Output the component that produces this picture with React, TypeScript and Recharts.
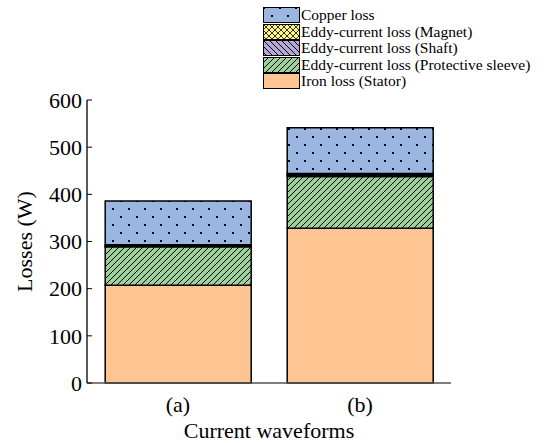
import { Bar, BarChart, XAxis, YAxis } from "recharts";

const categories = ["(a)", "(b)"];
const ironStator = [207, 328];
const eddySleeve = [82, 110];
const eddyShaft = [2, 3];
const eddyMagnet = [2, 3];
const copperLoss = [93, 97];
const yTicks = [0, 100, 200, 300, 400, 500, 600];

const FONT = "'Liberation Serif', 'Times New Roman', serif";

type Series = { key: string; label: string; fill: string };

// stacking order, bottom to top
const SERIES: Series[] = [
  { key: "iron", label: "Iron loss (Stator)", fill: "#fec593" },
  { key: "sleeve", label: "Eddy-current loss (Protective sleeve)", fill: "url(#pat-sleeve)" },
  { key: "shaft", label: "Eddy-current loss (Shaft)", fill: "url(#pat-shaft)" },
  { key: "magnet", label: "Eddy-current loss (Magnet)", fill: "url(#pat-magnet)" },
  { key: "copper", label: "Copper loss", fill: "url(#pat-copper)" },
];

const data = categories.map((name, i) => ({
  name,
  iron: ironStator[i],
  sleeve: eddySleeve[i],
  shaft: eddyShaft[i],
  magnet: eddyMagnet[i],
  copper: copperLoss[i],
}));

function PatternDefs() {
  return (
    <svg width={0} height={0} style={{ position: "absolute" }}>
      <defs>
        <pattern id="pat-copper" width={16} height={16} patternUnits="userSpaceOnUse">
          <rect width={16} height={16} fill="#9bb6e0" />
          <rect x={0} y={0} width={2} height={2} fill="#000" />
          <rect x={8} y={8} width={2} height={2} fill="#000" />
        </pattern>
        <pattern id="pat-sleeve" width={6} height={6} patternUnits="userSpaceOnUse">
          <rect width={6} height={6} fill="#9dd19a" />
          <path d="M-1,1 l2,-2 M0,6 l6,-6 M5,7 l2,-2" stroke="#000" strokeWidth={1} />
        </pattern>
        <pattern id="pat-shaft" width={6} height={6} patternUnits="userSpaceOnUse">
          <rect width={6} height={6} fill="#b7a8d8" />
          <path d="M-1,5 l2,2 M0,0 l6,6 M5,-1 l2,2" stroke="#000" strokeWidth={1} />
        </pattern>
        <pattern id="pat-magnet" width={6} height={6} patternUnits="userSpaceOnUse">
          <rect width={6} height={6} fill="#fbf58c" />
          <path d="M0,0 l6,6 M0,6 l6,-6" stroke="#000" strokeWidth={0.8} />
        </pattern>
      </defs>
    </svg>
  );
}

function YTick(props: any) {
  const { x, y, payload } = props;
  return (
    <g>
      <line x1={x + 5} x2={x + 10} y1={y} y2={y} stroke="#000" strokeWidth={1} />
      <text
        x={x}
        y={y}
        dy="0.355em"
        textAnchor="end"
        fill="#000"
        fontSize={22}
        fontFamily={FONT}
      >
        {payload.value}
      </text>
    </g>
  );
}

function LegendBox() {
  const rows = [...SERIES].reverse();
  return (
    <div style={{ position: "absolute", left: 263, top: 7 }}>
      {rows.map((s) => (
        <div
          key={s.key}
          style={{ display: "flex", alignItems: "center", height: 16.5 }}
        >
          <svg width={37} height={16} style={{ display: "block" }}>
            <rect x={0.5} y={0.5} width={36} height={15} fill={s.fill} stroke="#000" strokeWidth={1} />
          </svg>
          <span
            style={{
              marginLeft: 1,
              fontFamily: FONT,
              fontSize: 15.5,
              lineHeight: "16px",
              color: "#000",
              whiteSpace: "nowrap",
            }}
          >
            {s.label}
          </span>
        </div>
      ))}
    </div>
  );
}

export default function App() {
  return (
    <div style={{ position: "absolute", left: 0, top: 0, width: 554, height: 443, background: "#fff" }}>
      <PatternDefs />
      <BarChart
        width={554}
        height={443}
        data={data}
        margin={{ top: 100, right: 103, left: 0, bottom: 0 }}
        barCategoryGap="10%"
      >
        <XAxis
          dataKey="name"
          height={60}
          tickLine={false}
          tickSize={0}
          tickMargin={13}
          axisLine={{ stroke: "#555", strokeWidth: 1.5 }}
          tick={{ fill: "#000", fontSize: 22, fontFamily: FONT }}
          label={{
            value: "Current waveforms",
            position: "insideBottom",
            offset: 5,
            fill: "#000",
            fontSize: 22,
            fontFamily: FONT,
          }}
        />
        <YAxis
          width={87}
          domain={[0, 600]}
          ticks={yTicks}
          tickLine={false}
          tickSize={0}
          tickMargin={5}
          interval={0}
          axisLine={{ stroke: "#000", strokeWidth: 1.3 }}
          tick={<YTick />}
          label={{
            value: "Losses (W)",
            angle: -90,
            position: "center",
            dx: -19,
            fill: "#000",
            fontSize: 22,
            fontFamily: FONT,
          }}
        />
        {SERIES.map((s) => (
          <Bar
            key={s.key}
            dataKey={s.key}
            stackId="loss"
            fill={s.fill}
            stroke="#000"
            strokeWidth={1.5}
            isAnimationActive={false}
          />
        ))}
      </BarChart>
      <LegendBox />
    </div>
  );
}
